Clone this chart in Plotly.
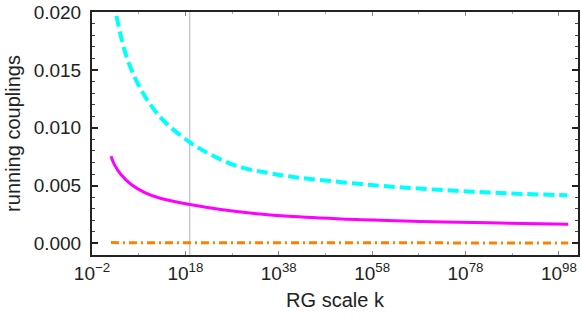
import plotly.graph_objects as go

# log10 of the RG scale k, and coupling values
cyan_logk = [2.07, 3.14, 4.21, 5.63, 7.77, 10.28, 13.49, 19.0, 23.5, 29.2, 35.6, 41.0,
             47.4, 54.6, 61.7, 68.8, 76.0, 83.1, 90.3, 99.8]
cyan_vals = [0.0224, 0.01989, 0.01787, 0.01586, 0.01385, 0.01213, 0.01054, 0.00873,
             0.00767, 0.00666, 0.00610, 0.00575, 0.00546, 0.00517, 0.00492, 0.00472,
             0.00455, 0.00440, 0.00428, 0.00416]

magenta_logk = [2.07, 2.8, 4.2, 6.4, 9.2, 12.8, 19.0, 25.6, 32.8, 41.0, 54.6, 68.8, 83.1, 100.0]
magenta_vals = [0.00753, 0.00681, 0.00595, 0.00509, 0.00442, 0.00388, 0.00336, 0.00293,
                0.00259, 0.00232, 0.00206, 0.00190, 0.00178, 0.00166]

orange_logk = [2.07, 19.0, 40.0, 70.0, 100.0]
orange_vals = [0.00007, 0.00006, 0.00005, 0.00005, 0.00004]

planck_logk = 18.95

x_tick_exps = [-2, 18, 38, 58, 78, 98]
x_minor_exps = [8, 28, 48, 68, 88]
y_tick_vals = [0.000, 0.005, 0.010, 0.015, 0.020]
y_tick_text = ["0.000", "0.005", "0.010", "0.015", "0.020"]

to_k = lambda exps: [10.0 ** e for e in exps]

fig = go.Figure()
fig.add_trace(go.Scatter(x=to_k(orange_logk), y=orange_vals, mode="lines",
                         line=dict(color="#FF8000", width=3, dash="8px,4px,2px,4px"),
                         showlegend=False))
fig.add_trace(go.Scatter(x=to_k(magenta_logk), y=magenta_vals, mode="lines",
                         line=dict(color="#FF00FF", width=3, shape="spline"),
                         showlegend=False))
fig.add_trace(go.Scatter(x=to_k(cyan_logk), y=cyan_vals, mode="lines",
                         line=dict(color="#00FFFF", width=4, shape="spline", dash="11px,5px"),
                         showlegend=False))

fig.add_shape(type="line", xref="x", yref="paper", x0=10.0 ** planck_logk, x1=10.0 ** planck_logk,
              y0=0, y1=1, line=dict(color="#b3b3b3", width=1), layer="below")

font_family = "Liberation Sans, Arial, sans-serif"
fig.update_layout(
    width=581, height=320,
    margin=dict(l=92, r=3, t=12, b=65),
    paper_bgcolor="white", plot_bgcolor="white",
    font=dict(family=font_family, color="#222222"),
)
fig.update_xaxes(
    type="log", range=[-2, 102.1], automargin=False,
    tickvals=to_k(x_tick_exps),
    ticktext=[f"10<sup>{e if e >= 0 else '−' + str(-e)}</sup>" for e in x_tick_exps],
    ticks="inside", ticklen=4, tickcolor="#888888", tickwidth=1,
    minor=dict(tickvals=to_k(x_minor_exps), ticks="inside", ticklen=2, tickcolor="#aaaaaa"),
    showgrid=False, zeroline=False,
    showline=True, linecolor="#222222", linewidth=2, mirror="ticks",
    tickfont=dict(size=19, color="#222222"),
    title=dict(text="RG scale k", font=dict(size=20, color="#222222"), standoff=10),
)
fig.update_yaxes(
    range=[-0.001, 0.020], automargin=False,
    tickvals=y_tick_vals, ticktext=y_tick_text,
    ticks="inside", ticklen=6, tickcolor="#222222", tickwidth=1.5,
    minor=dict(dtick=0.001, ticks="inside", ticklen=3, tickcolor="#444444", tickwidth=1),
    showgrid=False, zeroline=False,
    showline=True, linecolor="#222222", linewidth=2, mirror="ticks",
    tickfont=dict(size=19, color="#222222"),
    ticklabelstandoff=5,
    title=dict(text="running couplings", font=dict(size=20, color="#222222"), standoff=8),
)

# remove the page's default body margin so the 581x320 figure fills the window
fig.write_html("out.html", config={"displayModeBar": False},
               post_script="document.body.style.margin='0px';")
